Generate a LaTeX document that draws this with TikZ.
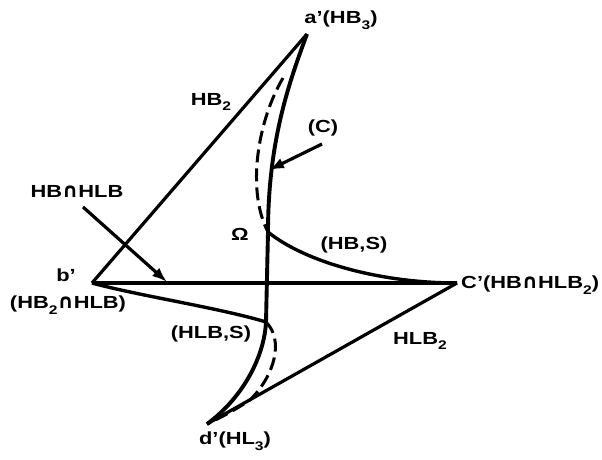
\documentclass[tikz,border=0pt]{standalone}
\usepackage{fontspec}
\setmainfont{Liberation Sans}[FakeStretch=1.25]
\newfontfamily\djf{DejaVu Sans}
\usetikzlibrary{arrows.meta}
\newcommand\sbx[1]{\raisebox{-0.32em}{\fontsize{12.5}{12.5}\selectfont #1}}
\newcommand\cp{{\djf\bfseries\fontsize{20}{20}\selectfont ∩}}
\tikzset{
  lbl/.style={inner sep=0pt, font=\fontsize{17.5}{19}\selectfont\bfseries},
  edge/.style={line width=3.2pt, line join=miter},
  main/.style={line width=3.9pt},
  dsh/.style={line width=3pt, dash pattern=on 13pt off 6pt},
  arr/.style={line width=3.2pt, -{Latex[length=15pt,width=11pt]}}
}
\begin{document}
\begin{tikzpicture}[x=1pt,y=-1pt]
\useasboundingbox (0,0) rectangle (602,459);
% vertices
\coordinate (a) at (307,34);
\coordinate (b) at (92,283);
\coordinate (c) at (457,283);
\coordinate (d) at (207,424);
\coordinate (om) at (268,232);
\coordinate (hs) at (266,322);
\coordinate (ds) at (283,78);
\coordinate (lw) at (250,400);
% straight sides
\draw[edge] (b) -- (a);
\draw[edge] (b) -- (c);
\draw[edge] (c) -- (d);
% main curve
\draw[main] (a) .. controls (290,80) and (268,140) .. (om) -- (hs) .. controls (264,360) and (240,400) .. (d);
% dashed curves
\draw[dsh] (ds) .. controls (258,120) and (246,190) .. (om);
\draw[dsh] (hs) .. controls (284,340) and (275,375) .. (lw) .. controls (235,410) and (220,418) .. (d);
% (HB,S) and (HLB,S)
\draw[main, line width=3.4pt] (om) .. controls (305,262) and (380,283) .. (c);
\draw[main, line width=3.4pt] (b) .. controls (140,296) and (220,308) .. (hs);
% labels
\node[lbl] (la) at (341,20) {a’(HB\sbx{3})};
\node[lbl] (lhb2) at (211,102) {HB\sbx{2}};
\node[lbl] (lc) at (323,128) {(C)};
\node[lbl] (lhbhlb) at (77,191) {HB\cp HLB};
\node[lbl] (lom) at (240,234) {Ω};
\node[lbl] (lhbs) at (354,245) {(HB,S)};
\node[lbl] (lb) at (66,275) {b’};
\node[lbl] (lb2) at (68,305) {(HB\sbx{2}\cp HLB)};
\node[lbl, anchor=west] (lcp) at (461,285) {C’(HB\cp HLB\sbx{2})};
\node[lbl] (lhlbs) at (211,334) {(HLB,S)};
\node[lbl] (lhlb2) at (420,341) {HLB\sbx{2}};
\node[lbl] (ld) at (235,441) {d’(HL\sbx{3})};
% arrows
\coordinate (c1) at (322,144);
\coordinate (c2) at (269,170);
\coordinate (h1) at (83,207);
\coordinate (h2) at (167,282);
\draw[arr] (c1) -- (c2);
\draw[arr] (h1) -- (h2);
\end{tikzpicture}
\end{document}
